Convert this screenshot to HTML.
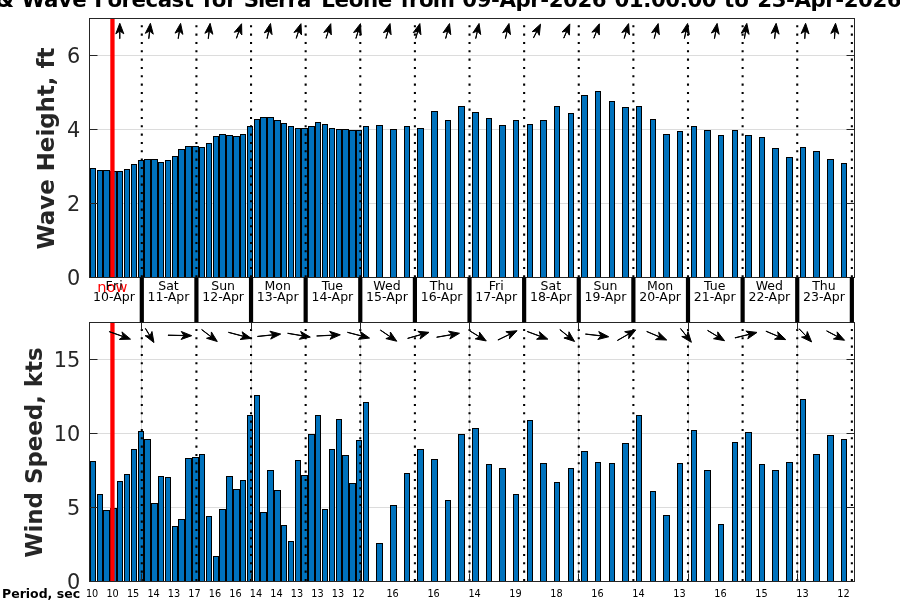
<!DOCTYPE html>
<html><head><meta charset="utf-8"><title>Wind &amp; Wave Forecast</title>
<style>
html,body{margin:0;padding:0;background:#fff;}
body{width:900px;height:600px;overflow:hidden;}
svg{display:block;will-change:transform;font-family:"DejaVu Sans","Liberation Sans",sans-serif;}
.b rect{fill:#0072bd;stroke:#000;stroke-width:1;shape-rendering:crispEdges;}
.dot{stroke:#000;stroke-width:2.08;stroke-dasharray:2.08 6.253;fill:none;}
.g{stroke:#dcdcdc;stroke-width:1;}
.tk{stroke:#262626;stroke-width:1;}
.yl{font-size:20.83px;fill:#262626;text-anchor:end;}
.dl{font-size:12.5px;fill:#000;text-anchor:middle;}
.pl{font-size:9.72px;fill:#000;text-anchor:middle;}
</style></head><body>
<svg width="900" height="600" viewBox="0 0 900 600">
<rect width="900" height="600" fill="#fff"/>
<g font-size="21.33" font-weight="bold" fill="#000">
<text x="-76.5" y="7.4" textLength="61.3" lengthAdjust="spacing">Wind</text>
<text x="-4.5" y="7.4" textLength="18.6" lengthAdjust="spacing">&amp;</text>
<text x="21.4" y="7.4" textLength="65.2" lengthAdjust="spacing">Wave</text>
<text x="94.3" y="7.4" textLength="99.6" lengthAdjust="spacing">Forecast</text>
<text x="202.8" y="7.4" textLength="34.0" lengthAdjust="spacing">for</text>
<text x="243.7" y="7.4" textLength="67.7" lengthAdjust="spacing">Sierra</text>
<text x="321.3" y="7.4" textLength="71.0" lengthAdjust="spacing">Leone</text>
<text x="400.5" y="7.4" textLength="54.6" lengthAdjust="spacing">from</text>
<text x="462.3" y="7.4" textLength="144.3" lengthAdjust="spacing">09-Apr-2026</text>
<text x="614.4" y="7.4" textLength="102.2" lengthAdjust="spacing">01:00:00</text>
<text x="724.0" y="7.4" textLength="24.9" lengthAdjust="spacing">to</text>
<text x="757.3" y="7.4" textLength="144.3" lengthAdjust="spacing">23-Apr-2026</text>
<text x="909.4" y="7.4" textLength="102.2" lengthAdjust="spacing">01:00:00</text>
</g>
<clipPath id="ct"><rect x="89.5" y="18.5" width="765.0" height="258.8"/></clipPath>
<line class="g" x1="89.5" x2="854.5" y1="203.50" y2="203.50"/>
<line class="g" x1="89.5" x2="854.5" y1="129.50" y2="129.50"/>
<line class="g" x1="89.5" x2="854.5" y1="55.50" y2="55.50"/>
<g class="b">
<rect x="90.5" y="168.5" width="5" height="109"/>
<rect x="97.5" y="170.5" width="5" height="107"/>
<rect x="103.5" y="170.5" width="6" height="107"/>
<rect x="110.5" y="171.5" width="6" height="106"/>
<rect x="117.5" y="171.5" width="5" height="106"/>
<rect x="124.5" y="169.5" width="5" height="108"/>
<rect x="131.5" y="164.5" width="5" height="113"/>
<rect x="138.5" y="160.5" width="5" height="117"/>
<rect x="144.5" y="159.5" width="6" height="118"/>
<rect x="151.5" y="159.5" width="6" height="118"/>
<rect x="158.5" y="162.5" width="5" height="115"/>
<rect x="165.5" y="160.5" width="5" height="117"/>
<rect x="172.5" y="156.5" width="5" height="121"/>
<rect x="178.5" y="149.5" width="6" height="128"/>
<rect x="185.5" y="146.5" width="6" height="131"/>
<rect x="192.5" y="146.5" width="6" height="131"/>
<rect x="199.5" y="147.5" width="5" height="130"/>
<rect x="206.5" y="143.5" width="5" height="134"/>
<rect x="213.5" y="136.5" width="5" height="141"/>
<rect x="219.5" y="134.5" width="6" height="143"/>
<rect x="226.5" y="135.5" width="6" height="142"/>
<rect x="233.5" y="136.5" width="6" height="141"/>
<rect x="240.5" y="134.5" width="5" height="143"/>
<rect x="247.5" y="126.5" width="5" height="151"/>
<rect x="254.5" y="119.5" width="5" height="158"/>
<rect x="260.5" y="117.5" width="6" height="160"/>
<rect x="267.5" y="117.5" width="6" height="160"/>
<rect x="274.5" y="120.5" width="6" height="157"/>
<rect x="281.5" y="123.5" width="5" height="154"/>
<rect x="288.5" y="126.5" width="5" height="151"/>
<rect x="295.5" y="128.5" width="5" height="149"/>
<rect x="301.5" y="128.5" width="6" height="149"/>
<rect x="308.5" y="126.5" width="6" height="151"/>
<rect x="315.5" y="122.5" width="5" height="155"/>
<rect x="322.5" y="124.5" width="5" height="153"/>
<rect x="329.5" y="128.5" width="5" height="149"/>
<rect x="336.5" y="129.5" width="5" height="148"/>
<rect x="342.5" y="129.5" width="6" height="148"/>
<rect x="349.5" y="130.5" width="6" height="147"/>
<rect x="356.5" y="130.5" width="5" height="147"/>
<rect x="363.5" y="126.5" width="5" height="151"/>
<rect x="376.5" y="125.5" width="6" height="152"/>
<rect x="390.5" y="129.5" width="6" height="148"/>
<rect x="404.5" y="126.5" width="5" height="151"/>
<rect x="417.5" y="128.5" width="6" height="149"/>
<rect x="431.5" y="111.5" width="6" height="166"/>
<rect x="445.5" y="120.5" width="5" height="157"/>
<rect x="458.5" y="106.5" width="6" height="171"/>
<rect x="472.5" y="112.5" width="6" height="165"/>
<rect x="486.5" y="118.5" width="5" height="159"/>
<rect x="499.5" y="125.5" width="6" height="152"/>
<rect x="513.5" y="120.5" width="5" height="157"/>
<rect x="527.5" y="124.5" width="5" height="153"/>
<rect x="540.5" y="120.5" width="6" height="157"/>
<rect x="554.5" y="106.5" width="5" height="171"/>
<rect x="568.5" y="113.5" width="5" height="164"/>
<rect x="581.5" y="95.5" width="6" height="182"/>
<rect x="595.5" y="91.5" width="5" height="186"/>
<rect x="609.5" y="101.5" width="5" height="176"/>
<rect x="622.5" y="107.5" width="6" height="170"/>
<rect x="636.5" y="106.5" width="5" height="171"/>
<rect x="650.5" y="119.5" width="5" height="158"/>
<rect x="663.5" y="134.5" width="6" height="143"/>
<rect x="677.5" y="131.5" width="5" height="146"/>
<rect x="691.5" y="126.5" width="5" height="151"/>
<rect x="704.5" y="130.5" width="6" height="147"/>
<rect x="718.5" y="135.5" width="5" height="142"/>
<rect x="732.5" y="130.5" width="5" height="147"/>
<rect x="745.5" y="135.5" width="6" height="142"/>
<rect x="759.5" y="137.5" width="5" height="140"/>
<rect x="772.5" y="148.5" width="6" height="129"/>
<rect x="786.5" y="157.5" width="6" height="120"/>
<rect x="800.5" y="147.5" width="5" height="130"/>
<rect x="813.5" y="151.5" width="6" height="126"/>
<rect x="827.5" y="159.5" width="6" height="118"/>
<rect x="841.5" y="163.5" width="5" height="114"/>
</g>
<line class="dot" x1="141.80" x2="141.80" y1="277.30" y2="18.50"/>
<line class="dot" x1="196.42" x2="196.42" y1="277.30" y2="18.50"/>
<line class="dot" x1="251.04" x2="251.04" y1="277.30" y2="18.50"/>
<line class="dot" x1="305.66" x2="305.66" y1="277.30" y2="18.50"/>
<line class="dot" x1="360.28" x2="360.28" y1="277.30" y2="18.50"/>
<line class="dot" x1="414.90" x2="414.90" y1="277.30" y2="18.50"/>
<line class="dot" x1="469.52" x2="469.52" y1="277.30" y2="18.50"/>
<line class="dot" x1="524.14" x2="524.14" y1="277.30" y2="18.50"/>
<line class="dot" x1="578.76" x2="578.76" y1="277.30" y2="18.50"/>
<line class="dot" x1="633.38" x2="633.38" y1="277.30" y2="18.50"/>
<line class="dot" x1="688.00" x2="688.00" y1="277.30" y2="18.50"/>
<line class="dot" x1="742.62" x2="742.62" y1="277.30" y2="18.50"/>
<line class="dot" x1="797.24" x2="797.24" y1="277.30" y2="18.50"/>
<line class="dot" x1="851.86" x2="851.86" y1="277.30" y2="18.50"/>
<line x1="112.45" x2="112.45" y1="18.5" y2="277.3" stroke="#ff0000" stroke-width="4.3"/>
<line class="tk" x1="89.5" x2="97.5" y1="277.50" y2="277.50"/>
<line class="tk" x1="846.5" x2="854.5" y1="277.50" y2="277.50"/>
<line class="tk" x1="89.5" x2="97.5" y1="203.50" y2="203.50"/>
<line class="tk" x1="846.5" x2="854.5" y1="203.50" y2="203.50"/>
<line class="tk" x1="89.5" x2="97.5" y1="129.50" y2="129.50"/>
<line class="tk" x1="846.5" x2="854.5" y1="129.50" y2="129.50"/>
<line class="tk" x1="89.5" x2="97.5" y1="55.50" y2="55.50"/>
<line class="tk" x1="846.5" x2="854.5" y1="55.50" y2="55.50"/>
<rect x="89.5" y="18.5" width="765.0" height="259.0" fill="none" stroke="#262626" stroke-width="1"/>
<text class="yl" x="80.3" y="285.20">0</text>
<text class="yl" x="80.3" y="211.26">2</text>
<text class="yl" x="80.3" y="137.31">4</text>
<text class="yl" x="80.3" y="63.37">6</text>
<line class="g" x1="89.5" x2="854.5" y1="507.50" y2="507.50"/>
<line class="g" x1="89.5" x2="854.5" y1="433.50" y2="433.50"/>
<line class="g" x1="89.5" x2="854.5" y1="359.50" y2="359.50"/>
<line class="g" x1="141.50" x2="141.50" y1="322.3" y2="581.0"/>
<line class="g" x1="251.50" x2="251.50" y1="322.3" y2="581.0"/>
<line class="g" x1="360.50" x2="360.50" y1="322.3" y2="581.0"/>
<line class="g" x1="469.50" x2="469.50" y1="322.3" y2="581.0"/>
<line class="g" x1="578.50" x2="578.50" y1="322.3" y2="581.0"/>
<line class="g" x1="688.50" x2="688.50" y1="322.3" y2="581.0"/>
<line class="g" x1="797.50" x2="797.50" y1="322.3" y2="581.0"/>
<g class="b">
<rect x="90.5" y="461.5" width="5" height="120"/>
<rect x="97.5" y="494.5" width="5" height="87"/>
<rect x="103.5" y="510.5" width="6" height="71"/>
<rect x="110.5" y="508.5" width="6" height="73"/>
<rect x="117.5" y="481.5" width="5" height="100"/>
<rect x="124.5" y="474.5" width="5" height="107"/>
<rect x="131.5" y="449.5" width="5" height="132"/>
<rect x="138.5" y="431.5" width="5" height="150"/>
<rect x="144.5" y="439.5" width="6" height="142"/>
<rect x="151.5" y="503.5" width="6" height="78"/>
<rect x="158.5" y="476.5" width="5" height="105"/>
<rect x="165.5" y="477.5" width="5" height="104"/>
<rect x="172.5" y="526.5" width="5" height="55"/>
<rect x="178.5" y="519.5" width="6" height="62"/>
<rect x="185.5" y="458.5" width="6" height="123"/>
<rect x="192.5" y="457.5" width="6" height="124"/>
<rect x="199.5" y="454.5" width="5" height="127"/>
<rect x="206.5" y="516.5" width="5" height="65"/>
<rect x="213.5" y="556.5" width="5" height="25"/>
<rect x="219.5" y="509.5" width="6" height="72"/>
<rect x="226.5" y="476.5" width="6" height="105"/>
<rect x="233.5" y="489.5" width="6" height="92"/>
<rect x="240.5" y="480.5" width="5" height="101"/>
<rect x="247.5" y="415.5" width="5" height="166"/>
<rect x="254.5" y="395.5" width="5" height="186"/>
<rect x="260.5" y="512.5" width="6" height="69"/>
<rect x="267.5" y="470.5" width="6" height="111"/>
<rect x="274.5" y="490.5" width="6" height="91"/>
<rect x="281.5" y="525.5" width="5" height="56"/>
<rect x="288.5" y="541.5" width="5" height="40"/>
<rect x="295.5" y="460.5" width="5" height="121"/>
<rect x="301.5" y="475.5" width="6" height="106"/>
<rect x="308.5" y="434.5" width="6" height="147"/>
<rect x="315.5" y="415.5" width="5" height="166"/>
<rect x="322.5" y="509.5" width="5" height="72"/>
<rect x="329.5" y="449.5" width="5" height="132"/>
<rect x="336.5" y="419.5" width="5" height="162"/>
<rect x="342.5" y="455.5" width="6" height="126"/>
<rect x="349.5" y="483.5" width="6" height="98"/>
<rect x="356.5" y="440.5" width="5" height="141"/>
<rect x="363.5" y="402.5" width="5" height="179"/>
<rect x="376.5" y="543.5" width="6" height="38"/>
<rect x="390.5" y="505.5" width="6" height="76"/>
<rect x="404.5" y="473.5" width="5" height="108"/>
<rect x="417.5" y="449.5" width="6" height="132"/>
<rect x="431.5" y="459.5" width="6" height="122"/>
<rect x="445.5" y="500.5" width="5" height="81"/>
<rect x="458.5" y="434.5" width="6" height="147"/>
<rect x="472.5" y="428.5" width="6" height="153"/>
<rect x="486.5" y="464.5" width="5" height="117"/>
<rect x="499.5" y="468.5" width="6" height="113"/>
<rect x="513.5" y="494.5" width="5" height="87"/>
<rect x="527.5" y="420.5" width="5" height="161"/>
<rect x="540.5" y="463.5" width="6" height="118"/>
<rect x="554.5" y="482.5" width="5" height="99"/>
<rect x="568.5" y="468.5" width="5" height="113"/>
<rect x="581.5" y="451.5" width="6" height="130"/>
<rect x="595.5" y="462.5" width="5" height="119"/>
<rect x="609.5" y="463.5" width="5" height="118"/>
<rect x="622.5" y="443.5" width="6" height="138"/>
<rect x="636.5" y="415.5" width="5" height="166"/>
<rect x="650.5" y="491.5" width="5" height="90"/>
<rect x="663.5" y="515.5" width="6" height="66"/>
<rect x="677.5" y="463.5" width="5" height="118"/>
<rect x="691.5" y="430.5" width="5" height="151"/>
<rect x="704.5" y="470.5" width="6" height="111"/>
<rect x="718.5" y="524.5" width="5" height="57"/>
<rect x="732.5" y="442.5" width="5" height="139"/>
<rect x="745.5" y="432.5" width="6" height="149"/>
<rect x="759.5" y="464.5" width="5" height="117"/>
<rect x="772.5" y="470.5" width="6" height="111"/>
<rect x="786.5" y="462.5" width="6" height="119"/>
<rect x="800.5" y="399.5" width="5" height="182"/>
<rect x="813.5" y="454.5" width="6" height="127"/>
<rect x="827.5" y="435.5" width="6" height="146"/>
<rect x="841.5" y="439.5" width="5" height="142"/>
</g>
<line class="dot" x1="141.80" x2="141.80" y1="581.00" y2="322.30"/>
<line class="dot" x1="196.42" x2="196.42" y1="581.00" y2="322.30"/>
<line class="dot" x1="251.04" x2="251.04" y1="581.00" y2="322.30"/>
<line class="dot" x1="305.66" x2="305.66" y1="581.00" y2="322.30"/>
<line class="dot" x1="360.28" x2="360.28" y1="581.00" y2="322.30"/>
<line class="dot" x1="414.90" x2="414.90" y1="581.00" y2="322.30"/>
<line class="dot" x1="469.52" x2="469.52" y1="581.00" y2="322.30"/>
<line class="dot" x1="524.14" x2="524.14" y1="581.00" y2="322.30"/>
<line class="dot" x1="578.76" x2="578.76" y1="581.00" y2="322.30"/>
<line class="dot" x1="633.38" x2="633.38" y1="581.00" y2="322.30"/>
<line class="dot" x1="688.00" x2="688.00" y1="581.00" y2="322.30"/>
<line class="dot" x1="742.62" x2="742.62" y1="581.00" y2="322.30"/>
<line class="dot" x1="797.24" x2="797.24" y1="581.00" y2="322.30"/>
<line class="dot" x1="851.86" x2="851.86" y1="581.00" y2="322.30"/>
<line x1="112.45" x2="112.45" y1="322.3" y2="581.0" stroke="#ff0000" stroke-width="4.3"/>
<line class="tk" x1="89.5" x2="97.5" y1="581.50" y2="581.50"/>
<line class="tk" x1="846.5" x2="854.5" y1="581.50" y2="581.50"/>
<line class="tk" x1="89.5" x2="97.5" y1="507.50" y2="507.50"/>
<line class="tk" x1="846.5" x2="854.5" y1="507.50" y2="507.50"/>
<line class="tk" x1="89.5" x2="97.5" y1="433.50" y2="433.50"/>
<line class="tk" x1="846.5" x2="854.5" y1="433.50" y2="433.50"/>
<line class="tk" x1="89.5" x2="97.5" y1="359.50" y2="359.50"/>
<line class="tk" x1="846.5" x2="854.5" y1="359.50" y2="359.50"/>
<line class="tk" x1="141.50" x2="141.50" y1="322.3" y2="329.8"/>
<line class="tk" x1="141.50" x2="141.50" y1="573.5" y2="581.0"/>
<line class="tk" x1="251.50" x2="251.50" y1="322.3" y2="329.8"/>
<line class="tk" x1="251.50" x2="251.50" y1="573.5" y2="581.0"/>
<line class="tk" x1="360.50" x2="360.50" y1="322.3" y2="329.8"/>
<line class="tk" x1="360.50" x2="360.50" y1="573.5" y2="581.0"/>
<line class="tk" x1="469.50" x2="469.50" y1="322.3" y2="329.8"/>
<line class="tk" x1="469.50" x2="469.50" y1="573.5" y2="581.0"/>
<line class="tk" x1="578.50" x2="578.50" y1="322.3" y2="329.8"/>
<line class="tk" x1="578.50" x2="578.50" y1="573.5" y2="581.0"/>
<line class="tk" x1="688.50" x2="688.50" y1="322.3" y2="329.8"/>
<line class="tk" x1="688.50" x2="688.50" y1="573.5" y2="581.0"/>
<line class="tk" x1="797.50" x2="797.50" y1="322.3" y2="329.8"/>
<line class="tk" x1="797.50" x2="797.50" y1="573.5" y2="581.0"/>
<rect x="89.5" y="322.5" width="765.0" height="259.0" fill="none" stroke="#262626" stroke-width="1"/>
<text class="yl" x="80.3" y="588.90">0</text>
<text class="yl" x="80.3" y="514.99">5</text>
<text class="yl" x="80.3" y="441.07">10</text>
<text class="yl" x="80.3" y="367.16">15</text>
<g fill="#000" stroke="#000" stroke-width="1" stroke-linejoin="round">
<polygon points="119.90,38.70 119.90,31.10 123.80,33.80 119.80,23.30 115.80,33.80 119.70,31.10 119.70,38.70"/>
<polygon points="148.89,38.67 149.69,31.11 153.29,34.20 150.40,23.34 145.33,33.37 149.49,31.09 148.70,38.65"/>
<polygon points="178.29,38.62 179.48,31.11 182.91,34.39 180.60,23.39 175.01,33.14 179.29,31.08 178.10,38.59"/>
<polygon points="208.36,38.65 209.29,31.11 212.83,34.27 210.14,23.36 204.89,33.29 209.09,31.09 208.16,38.63"/>
<polygon points="236.52,38.29 239.06,31.13 241.84,34.97 241.57,23.74 234.29,32.30 238.87,31.06 236.34,38.22"/>
<polygon points="267.17,38.53 268.87,31.12 272.07,34.63 270.53,23.50 264.27,32.83 268.68,31.07 266.97,38.48"/>
<polygon points="296.32,38.35 298.66,31.13 301.54,34.90 300.98,23.68 293.93,32.43 298.47,31.06 296.13,38.29"/>
<polygon points="326.12,38.35 328.46,31.13 331.34,34.90 330.78,23.68 323.73,32.43 328.27,31.06 325.93,38.29"/>
<polygon points="356.04,38.39 358.27,31.12 361.21,34.85 360.45,23.64 353.56,32.51 358.08,31.07 355.85,38.33"/>
<polygon points="386.04,38.45 388.07,31.12 391.11,34.77 390.06,23.58 383.40,32.63 387.88,31.07 385.85,38.39"/>
<polygon points="415.84,38.45 417.87,31.12 420.91,34.77 419.86,23.58 413.20,32.63 417.68,31.07 415.65,38.39"/>
<polygon points="445.77,38.48 447.67,31.12 450.77,34.71 449.53,23.55 443.03,32.71 447.48,31.07 445.58,38.43"/>
<polygon points="475.83,38.54 477.48,31.12 480.70,34.60 479.07,23.48 472.89,32.87 477.28,31.08 475.64,38.50"/>
<polygon points="505.50,38.51 507.27,31.12 510.44,34.66 509.00,23.51 502.66,32.79 507.08,31.07 505.31,38.46"/>
<polygon points="533.59,37.91 537.04,31.13 539.29,35.31 540.50,24.14 532.16,31.68 536.87,31.04 533.42,37.82"/>
<polygon points="563.88,38.13 566.85,31.13 569.39,35.14 569.81,23.91 562.02,32.01 566.67,31.05 563.70,38.05"/>
<polygon points="593.93,38.22 596.66,31.13 599.33,35.05 599.36,23.81 591.86,32.18 596.47,31.06 593.75,38.15"/>
<polygon points="624.31,38.41 626.47,31.12 629.44,34.82 628.59,23.62 621.77,32.55 626.28,31.07 624.12,38.35"/>
<polygon points="654.30,38.46 656.27,31.12 659.34,34.74 658.19,23.56 651.61,32.67 656.08,31.07 654.11,38.41"/>
<polygon points="684.50,38.55 686.08,31.12 689.33,34.57 687.60,23.47 681.51,32.91 685.88,31.08 684.30,38.51"/>
<polygon points="714.56,38.60 715.88,31.12 719.25,34.45 717.14,23.42 711.37,33.06 715.68,31.08 714.36,38.57"/>
<polygon points="744.49,38.62 745.68,31.11 749.11,34.39 746.80,23.39 741.21,33.14 745.49,31.08 744.30,38.59"/>
<polygon points="774.75,38.67 775.49,31.11 779.11,34.18 776.15,23.34 771.15,33.40 775.29,31.09 774.55,38.65"/>
<polygon points="804.90,38.69 805.29,31.11 809.05,34.01 805.60,23.31 801.06,33.59 805.09,31.09 804.70,38.68"/>
<polygon points="834.56,38.69 835.09,31.11 838.79,34.07 835.54,23.32 830.81,33.51 834.89,31.09 834.36,38.67"/>
<polygon points="109.24,331.76 123.14,336.64 119.30,339.43 130.53,339.13 121.95,331.88 123.20,336.45 109.30,331.57"/>
<polygon points="145.37,328.48 149.84,335.93 145.11,335.63 153.94,342.57 151.97,331.51 150.02,335.83 145.54,328.38"/>
<polygon points="168.00,335.31 183.90,335.63 181.12,339.48 191.70,335.69 181.28,331.48 183.90,335.43 168.00,335.11"/>
<polygon points="201.64,329.68 211.04,336.85 206.53,338.31 217.30,341.50 211.38,331.95 211.16,336.69 201.76,329.52"/>
<polygon points="228.46,332.43 243.65,336.46 240.04,339.54 251.22,338.37 242.10,331.81 243.70,336.27 228.51,332.23"/>
<polygon points="257.51,336.55 272.95,334.95 270.67,339.11 280.70,334.05 269.85,331.15 272.93,334.75 257.49,336.35"/>
<polygon points="287.68,333.38 302.60,335.91 299.29,339.31 310.31,337.12 300.62,331.42 302.63,335.71 287.71,333.18"/>
<polygon points="316.70,336.08 332.51,335.30 330.01,339.33 340.30,334.82 329.62,331.34 332.50,335.10 316.69,335.88"/>
<polygon points="347.46,332.42 361.94,336.20 358.35,339.29 369.52,338.07 360.37,331.55 361.99,336.01 347.51,332.23"/>
<polygon points="380.36,330.16 390.28,336.91 385.86,338.62 396.79,341.22 390.35,332.01 390.39,336.75 380.47,330.00"/>
<polygon points="407.71,338.46 421.54,334.55 420.00,339.04 429.02,332.34 417.83,331.34 421.49,334.36 407.65,338.27"/>
<polygon points="436.71,337.31 451.84,334.71 449.84,339.01 459.51,333.28 448.48,331.13 451.80,334.51 436.68,337.12"/>
<polygon points="469.57,330.85 479.57,336.96 475.23,338.87 486.27,340.94 479.40,332.05 479.67,336.79 469.68,330.68"/>
<polygon points="497.99,340.07 510.08,334.21 509.35,338.90 517.05,330.72 505.86,331.70 509.99,334.03 497.91,339.89"/>
<polygon points="527.13,331.57 540.48,336.51 536.60,339.23 547.83,339.13 539.37,331.73 540.55,336.32 527.20,331.38"/>
<polygon points="559.83,329.69 568.48,336.67 563.93,338.01 574.61,341.49 568.95,331.78 568.60,336.51 559.95,329.54"/>
<polygon points="585.49,334.16 600.94,335.95 597.81,339.51 608.70,336.74 598.73,331.56 600.97,335.75 585.51,333.96"/>
<polygon points="617.48,340.54 629.05,333.91 628.64,338.64 635.77,329.95 624.67,331.70 628.95,333.74 617.38,340.36"/>
<polygon points="646.72,331.59 659.52,337.04 655.51,339.57 666.74,340.00 658.65,332.21 659.60,336.86 646.80,331.40"/>
<polygon points="680.53,328.65 686.49,336.24 681.76,336.52 691.39,342.31 688.05,331.58 686.65,336.11 680.69,328.53"/>
<polygon points="707.58,330.54 717.85,336.78 713.52,338.71 724.57,340.74 717.67,331.87 717.96,336.61 707.68,330.37"/>
<polygon points="735.01,337.98 749.47,334.39 747.79,338.83 757.01,332.42 745.86,331.06 749.42,334.20 734.96,337.78"/>
<polygon points="765.92,331.29 778.52,336.64 774.51,339.18 785.74,339.60 777.64,331.82 778.60,336.46 766.00,331.10"/>
<polygon points="799.07,328.93 806.19,336.37 801.51,337.12 811.65,341.94 807.29,331.59 806.34,336.23 799.22,328.79"/>
<polygon points="826.60,331.02 837.59,336.75 833.40,338.96 844.56,340.27 837.09,331.87 837.69,336.57 826.69,330.84"/>
</g>
<line x1="141.80" x2="141.80" y1="277.3" y2="322.3" stroke="#000" stroke-width="4.2"/>
<line x1="196.42" x2="196.42" y1="277.3" y2="322.3" stroke="#000" stroke-width="4.2"/>
<line x1="251.04" x2="251.04" y1="277.3" y2="322.3" stroke="#000" stroke-width="4.2"/>
<line x1="305.66" x2="305.66" y1="277.3" y2="322.3" stroke="#000" stroke-width="4.2"/>
<line x1="360.28" x2="360.28" y1="277.3" y2="322.3" stroke="#000" stroke-width="4.2"/>
<line x1="414.90" x2="414.90" y1="277.3" y2="322.3" stroke="#000" stroke-width="4.2"/>
<line x1="469.52" x2="469.52" y1="277.3" y2="322.3" stroke="#000" stroke-width="4.2"/>
<line x1="524.14" x2="524.14" y1="277.3" y2="322.3" stroke="#000" stroke-width="4.2"/>
<line x1="578.76" x2="578.76" y1="277.3" y2="322.3" stroke="#000" stroke-width="4.2"/>
<line x1="633.38" x2="633.38" y1="277.3" y2="322.3" stroke="#000" stroke-width="4.2"/>
<line x1="688.00" x2="688.00" y1="277.3" y2="322.3" stroke="#000" stroke-width="4.2"/>
<line x1="742.62" x2="742.62" y1="277.3" y2="322.3" stroke="#000" stroke-width="4.2"/>
<line x1="797.24" x2="797.24" y1="277.3" y2="322.3" stroke="#000" stroke-width="4.2"/>
<line x1="851.86" x2="851.86" y1="277.3" y2="322.3" stroke="#000" stroke-width="4.2"/>
<text x="112.4" y="292.0" text-anchor="middle" font-size="14.6" fill="#ff0000">now</text>
<text class="dl" x="114.70" y="289.7" letter-spacing="1.1">Fri</text>
<text class="dl" x="113.90" y="300.8">10-Apr</text>
<text class="dl" x="168.51" y="289.7">Sat</text>
<text class="dl" x="168.51" y="300.8">11-Apr</text>
<text class="dl" x="223.13" y="289.7">Sun</text>
<text class="dl" x="223.13" y="300.8">12-Apr</text>
<text class="dl" x="277.75" y="289.7">Mon</text>
<text class="dl" x="277.75" y="300.8">13-Apr</text>
<text class="dl" x="332.37" y="289.7">Tue</text>
<text class="dl" x="332.37" y="300.8">14-Apr</text>
<text class="dl" x="386.99" y="289.7">Wed</text>
<text class="dl" x="386.99" y="300.8">15-Apr</text>
<text class="dl" x="441.61" y="289.7">Thu</text>
<text class="dl" x="441.61" y="300.8">16-Apr</text>
<text class="dl" x="496.23" y="289.7">Fri</text>
<text class="dl" x="496.23" y="300.8">17-Apr</text>
<text class="dl" x="550.85" y="289.7">Sat</text>
<text class="dl" x="550.85" y="300.8">18-Apr</text>
<text class="dl" x="605.47" y="289.7">Sun</text>
<text class="dl" x="605.47" y="300.8">19-Apr</text>
<text class="dl" x="660.09" y="289.7">Mon</text>
<text class="dl" x="660.09" y="300.8">20-Apr</text>
<text class="dl" x="714.71" y="289.7">Tue</text>
<text class="dl" x="714.71" y="300.8">21-Apr</text>
<text class="dl" x="769.33" y="289.7">Wed</text>
<text class="dl" x="769.33" y="300.8">22-Apr</text>
<text class="dl" x="823.95" y="289.7">Thu</text>
<text class="dl" x="823.95" y="300.8">23-Apr</text>
<text class="pl" x="92.10" y="597.4">10</text>
<text class="pl" x="112.59" y="597.4">10</text>
<text class="pl" x="133.08" y="597.4">15</text>
<text class="pl" x="153.57" y="597.4">14</text>
<text class="pl" x="174.06" y="597.4">13</text>
<text class="pl" x="194.55" y="597.4">17</text>
<text class="pl" x="215.04" y="597.4">16</text>
<text class="pl" x="235.53" y="597.4">16</text>
<text class="pl" x="256.02" y="597.4">14</text>
<text class="pl" x="276.51" y="597.4">14</text>
<text class="pl" x="297.00" y="597.4">13</text>
<text class="pl" x="317.49" y="597.4">13</text>
<text class="pl" x="337.98" y="597.4">13</text>
<text class="pl" x="358.47" y="597.4">12</text>
<text class="pl" x="392.62" y="597.4">16</text>
<text class="pl" x="433.60" y="597.4">16</text>
<text class="pl" x="474.58" y="597.4">14</text>
<text class="pl" x="515.56" y="597.4">19</text>
<text class="pl" x="556.54" y="597.4">18</text>
<text class="pl" x="597.52" y="597.4">16</text>
<text class="pl" x="638.50" y="597.4">14</text>
<text class="pl" x="679.48" y="597.4">13</text>
<text class="pl" x="720.46" y="597.4">16</text>
<text class="pl" x="761.44" y="597.4">15</text>
<text class="pl" x="802.42" y="597.4">13</text>
<text class="pl" x="843.40" y="597.4">12</text>
<text x="2" y="597.5" font-size="12.5" font-weight="bold" fill="#000">Period, sec</text>
<text transform="translate(54,148.6) rotate(-90)" text-anchor="middle" font-size="22.9" font-weight="bold" fill="#262626">Wave Height, ft</text>
<text transform="translate(41.6,452.6) rotate(-90)" text-anchor="middle" font-size="22.9" font-weight="bold" fill="#262626">Wind Speed, kts</text>
</svg></body></html>
